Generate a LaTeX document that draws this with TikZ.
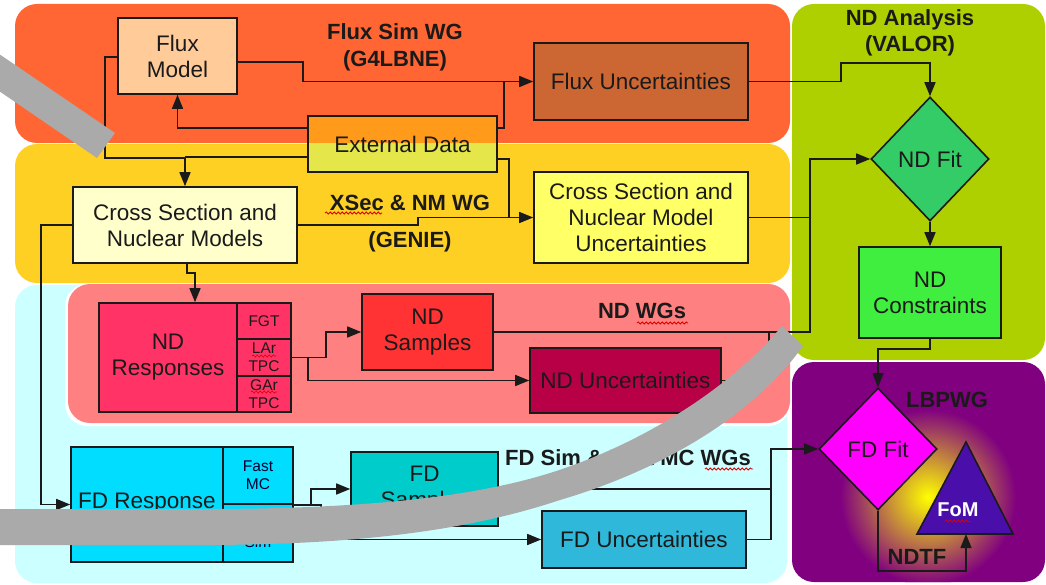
\documentclass[tikz,border=0pt]{standalone}
\usepackage{fontspec}
\setmainfont{Liberation Sans}
\usetikzlibrary{arrows.meta,shapes.geometric,decorations.pathmorphing}
\definecolor{cOrangeP}{HTML}{FF6633}
\definecolor{cYellowP}{HTML}{FFD024}
\definecolor{cCyanP}{HTML}{CCFFFF}
\definecolor{cPinkP}{HTML}{FF8080}
\definecolor{cGreenP}{HTML}{AED000}
\definecolor{cPurpleP}{HTML}{800080}
\definecolor{cFluxModel}{HTML}{FFCC99}
\definecolor{cFluxUnc}{HTML}{CC6633}
\definecolor{cExtTop}{HTML}{FF9A1A}
\definecolor{cExtBot}{HTML}{E5E64A}
\definecolor{cXsecMod}{HTML}{FFFFCC}
\definecolor{cXsecUnc}{HTML}{FFFF66}
\definecolor{cNDFit}{HTML}{33CC66}
\definecolor{cNDCons}{HTML}{40EE40}
\definecolor{cNDResp}{HTML}{FF3366}
\definecolor{cNDSamp}{HTML}{FF3333}
\definecolor{cNDUnc}{HTML}{B80047}
\definecolor{cFDResp}{HTML}{00DDFF}
\definecolor{cFDSamp}{HTML}{00CCCC}
\definecolor{cFDUnc}{HTML}{30B8DA}
\definecolor{cFDFit}{HTML}{FF00FF}
\definecolor{cFoM}{HTML}{4A0FAA}
\definecolor{cBand}{HTML}{AAAAAA}
\definecolor{cInk}{HTML}{1A1A1A}
\newcommand\mainf{\fontsize{22.5}{26}\selectfont}
\newcommand\labf{\bfseries\fontsize{22}{26.5}\selectfont}
\newcommand\smallf{\fontsize{15.5}{18}\selectfont}
\tikzset{
  box/.style={draw=cInk, line width=1.6pt, inner sep=0pt, align=center, font=\mainf, text=cInk},
  dbox/.style={diamond, draw=cInk, line width=1.6pt, inner sep=0pt, align=center, font=\mainf, text=cInk},
  arr/.style={draw=cInk, line width=1.5pt, -{Triangle[length=14pt,width=11pt]}},
  ln/.style={draw=cInk, line width=1.5pt},
  lab/.style={font=\labf, align=center, text=cInk, inner sep=0pt},
  panel/.style={rounded corners=22pt},
  wavy/.style={draw=red!85!black, line width=0.8pt, decorate, decoration={snake, amplitude=1.1pt, segment length=4pt}}
}
\begin{document}
\begin{tikzpicture}[x=1pt,y=-1pt]
\useasboundingbox (0,0) rectangle (1046,585);
% panels
\fill[white] (0,0) rectangle (1046,585);
\fill[cOrangeP, panel] (15,4) rectangle (790,143);
\fill[cYellowP, panel] (15,144) rectangle (790,283);
\fill[cCyanP, panel] (15,285) rectangle (787,583);
\fill[white, panel] (65,284) rectangle (790,426);
\fill[cPinkP, panel] (68,284) rectangle (790,423);
\fill[cGreenP, panel] (792,4) rectangle (1045,360);
\fill[cPurpleP, panel] (792,362) rectangle (1045,582);
\begin{scope}
  \clip[panel] (792,362) rectangle (1045,582);
  \shade[inner color=yellow, outer color=cPurpleP] (928,497) circle (88);
\end{scope}
% coordinates for joins
\coordinate (jx) at (810,0);
\coordinate (jy) at (771,0);
% external data two-tone fill
\fill[cExtTop] (308,116) rectangle (497,143.5);
\fill[cExtBot] (308,143.5) rectangle (497,172);
% nodes
\node[box, fill=cFluxModel, minimum width=119pt, minimum height=76pt] (fluxmodel) at (177.5,56) {Flux\\Model};
\node[box, fill=cFluxUnc, minimum width=214pt, minimum height=77pt] (fluxunc) at (641,81.5) {Flux Uncertainties};
\node[box, minimum width=189pt, minimum height=56pt] (extdata) at (402.5,144) {External Data};
\node[box, fill=cXsecMod, minimum width=224pt, minimum height=76pt] (xsecmod) at (185,225) {Cross Section and\\Nuclear Models};
\node[box, fill=cXsecUnc, minimum width=214pt, minimum height=91pt] (xsecunc) at (641,217.5) {Cross Section and\\Nuclear Model\\Uncertainties};
\node[dbox, fill=cNDFit, minimum width=118pt, minimum height=124pt] (ndfit) at (930,159) {ND Fit};
\node[box, fill=cNDCons, minimum width=142pt, minimum height=91pt] (ndcons) at (930,292.5) {ND\\Constraints};
\node[box, fill=cNDResp, minimum width=192pt, minimum height=109pt] (ndresp) at (195,357.5) {};
\node[font=\mainf, align=center, text=cInk] (ndresptxt) at (168,357.5) {ND\\Responses};
\node[box, fill=cNDResp, minimum width=54pt, minimum height=36pt, font=\smallf] (fgt) at (264,321) {FGT};
\node[box, fill=cNDResp, minimum width=54pt, minimum height=37pt, font=\smallf] (lar) at (264,357.5) {LAr\\TPC};
\node[box, fill=cNDResp, minimum width=54pt, minimum height=36pt, font=\smallf] (gar) at (264,394) {GAr\\TPC};
\node[box, fill=cNDSamp, minimum width=131pt, minimum height=76pt] (ndsamp) at (427.5,332) {ND\\Samples};
\node[box, fill=cNDUnc, minimum width=191pt, minimum height=65pt] (ndunc) at (625.5,380.5) {ND Uncertainties};
\node[box, fill=cFDResp, minimum width=222pt, minimum height=115pt] (fdresp) at (182,504.5) {};
\node[font=\mainf, text=cInk] (fdresptxt) at (147,503) {FD Response};
\node[box, fill=cFDResp, minimum width=70pt, minimum height=57pt, font=\smallf, text=black!80!blue] (fast) at (258,475.5) {Fast\\MC};
\node[box, fill=cFDResp, minimum width=70pt, minimum height=58pt, font=\smallf, text=black!80!blue] (full) at (258,533) {Full\\Sim};
\node[box, fill=cFDSamp, minimum width=147pt, minimum height=74pt] (fdsamp) at (424.5,489) {FD\\Samples};
\node[box, fill=cFDUnc, minimum width=204pt, minimum height=57pt] (fdunc) at (644,539.5) {FD Uncertainties};
\node[dbox, fill=cFDFit, minimum width=118pt, minimum height=122pt] (fdfit) at (878,449) {FD Fit};
\filldraw[fill=cFoM, draw=cInk, line width=1.6pt] (966,442) -- (1013,534) -- (917,534) -- cycle;
\coordinate (fombase) at (966,534);
\node[font=\bfseries\fontsize{20}{22}\selectfont, text=white] (fomtxt) at (958,510) {FoM};
% labels
\node[lab] (fluxlab) at (395,47.5) {Flux Sim WG\\(G4LBNE)};
\node[lab] (ndalab) at (910,33) {ND Analysis\\(VALOR)};
\node[lab] (xseclab) at (410,203) {XSec \& NM WG};
\node[lab] (genielab) at (410,242) {(GENIE)};
\node[lab] (ndwglab) at (642,311) {ND WGs};
\node[lab] (fdwglab) at (628,458) {FD Sim \& Fast MC WGs};
\node[lab] (lbpwglab) at (947,400) {LBPWG};
\node[lab] (ndtflab) at (917,557) {NDTF};
% spell-check underlines
\draw[wavy] (325,213) -- (382,213);
\draw[wavy] (637,323) -- (688,323);
\draw[wavy] (705,469) -- (753,469);
\draw[wavy] (945,521) -- (970,521);
\draw[wavy, line width=0.6pt] (252,356) -- (276,356);
\draw[wavy, line width=0.6pt] (251,392) -- (277,392);
% connectors
\draw[arr] ([yshift=-6pt]fluxmodel.east) -- ++(65,0) |- (fluxunc.west);
\draw[ln] ([yshift=16pt]extdata.east) -- ++(6,0) |- ([xshift=-25pt]fluxunc.west);
\draw[arr] ([yshift=16pt]extdata.west) -| (fluxmodel.south);
\draw[arr] ([yshift=-1pt]fluxmodel.west) -- ++(-12,0) -- ++(0,101) -| (xsecmod.north);
\draw[ln] ([yshift=-13pt]extdata.west) -- ([yshift=-13pt]extdata.west -| xsecmod.north);
\draw[arr] ([yshift=-15pt]extdata.east) -- ++(11,0) |- (xsecunc.west);
\draw[ln] (xsecmod.east) -- ++(120,0) |- ([xshift=-20pt]xsecunc.west);
\draw[ln] (xsecunc.east) -- (xsecunc.east -| jx);
\draw[arr] (ndsamp.east) -- (ndsamp.east -| jx) |- (ndfit.west);
\draw[ln] (ndunc.east) -- ++(47,0) |- (ndsamp.east -| jy);
\draw[arr] (fluxunc.east) -- ++(92,0) -- ++(0,-18.5) -| (ndfit.north);
\draw[arr] (ndfit.south) -- (ndcons.north);
\draw[arr] (ndcons.south) -- ++(0,10) -| (fdfit.north);
\draw[arr] ([xshift=2pt]xsecmod.south) -- ++(0,9) -| (ndresp.north);
\draw[arr] (xsecmod.west) -- ++(-31,0) |- (fdresp.west);
\draw[arr] (lar.east) -- ++(34,0) |- (ndsamp.west);
\draw[arr] ([xshift=16pt]lar.east) |- (ndunc.west);
\draw[arr] (fast.south east) -- ++(17,0) |- (fdsamp.west);
\draw[arr] (fast.south east) -- ++(27,0) |- (fdunc.west);
\draw[arr] (fdsamp.east) -- (fdsamp.east -| jy) |- (fdfit.west);
\draw[ln] (fdunc.east) -- (fdunc.east -| jy) -- (jy |- fdsamp.east);
\draw[arr] (fdfit.south) -- ++(0,60) -| (fombase);
% grey bands
\fill[cBand] (-20,41) -- (115,133) -- (97,158) -- (-20,78) -- cycle;
\fill[cBand] (-10,509) -- (200,509) .. controls (330,509) and (450,502) .. (540,476)
  .. controls (620,453) and (720,400) .. (782,326) -- (803,346)
  .. controls (750,420) and (655,472) .. (560,500)
  .. controls (470,530) and (360,545) .. (200,545) -- (-10,545) -- cycle;
\end{tikzpicture}
\end{document}
